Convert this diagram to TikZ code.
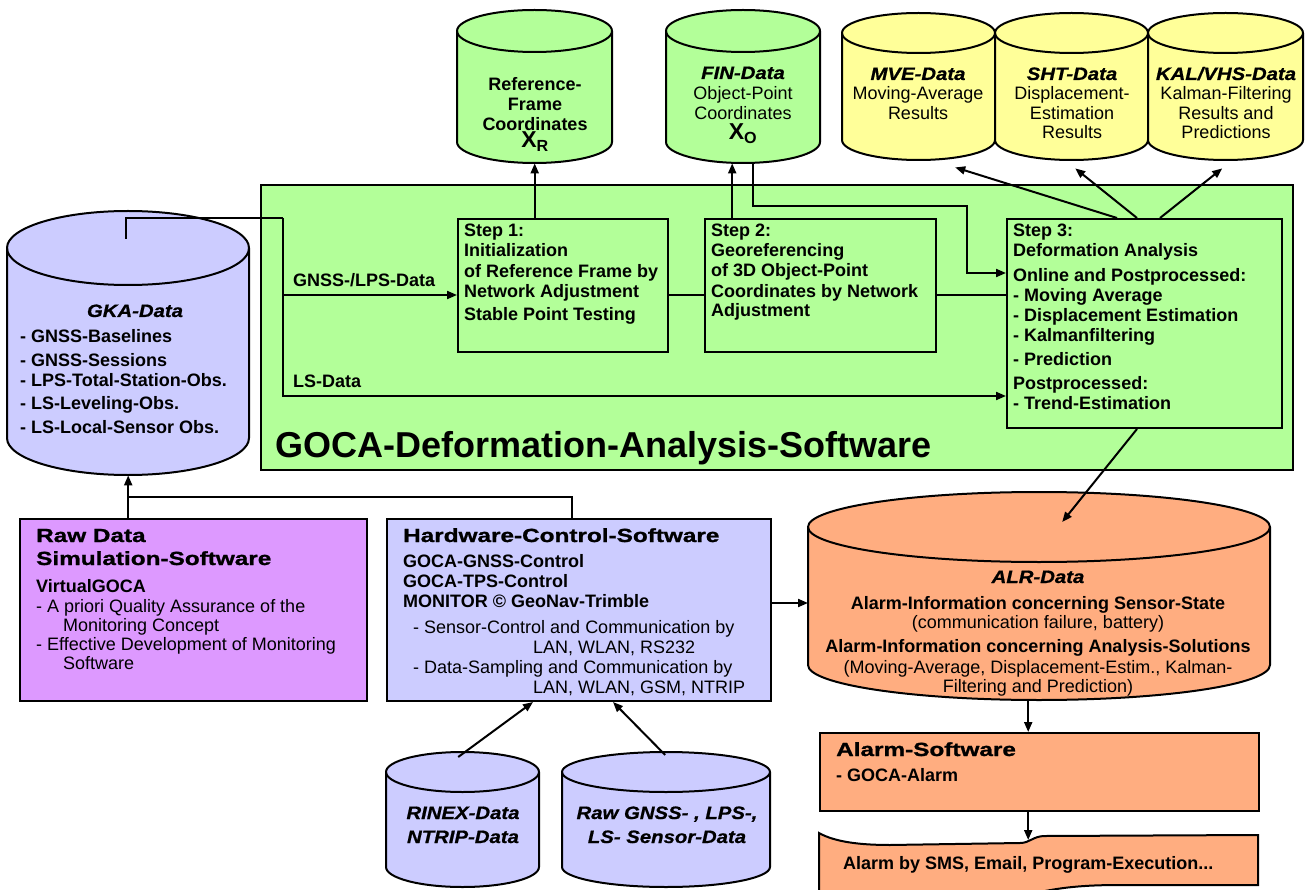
\documentclass[tikz,border=0pt]{standalone}
\usepackage{fontspec}
\setmainfont{Liberation Sans}
\newfontfamily\blackfont[FakeStretch=1.28,FakeBold=1.2]{Liberation Sans}
\newfontfamily\semiblack[FakeStretch=1.13,FakeBold=0.8]{Liberation Sans}
\usetikzlibrary{arrows.meta,calc}
\definecolor{cgreen}{RGB}{179,255,153}
\definecolor{cyellow}{RGB}{255,255,153}
\definecolor{clav}{RGB}{204,204,255}
\definecolor{cviolet}{RGB}{221,153,255}
\definecolor{corange}{RGB}{255,173,128}
% name, x1, x2, ytop-centre, ybottom-centre, ry, colour
\newcommand\mycyl[7]{%
  \path[draw=black, line width=2pt, fill=#7] (#2,#4) -- (#2,#5)
    arc[start angle=180, end angle=360, x radius={(#3-#2)*0.5pt}, y radius={#6*1pt}]
    -- (#3,#4)
    arc[start angle=0, end angle=180, x radius={(#3-#2)*0.5pt}, y radius={#6*1pt}] -- cycle;
  \draw[line width=2pt] (#2,#4)
    arc[start angle=180, end angle=360, x radius={(#3-#2)*0.5pt}, y radius={#6*1pt}];
  \node[inner sep=0pt, minimum width={(#3-#2)*1pt}, minimum height={(#5-#4+2*#6)*1pt}, anchor=north west] (#1) at (#2,#4-#6) {};
}
\tikzset{
  line/.style={line width=2pt},
  arr/.style={line width=2pt, -{Triangle[length=10pt,width=8pt]}},
  box/.style={draw, line width=2pt, inner sep=0pt, anchor=north west},
  txt/.style={inner sep=0pt, font=\fontsize{18}{20}\selectfont},
  lt/.style={txt, anchor=base west, align=left},
  ct/.style={txt, anchor=base, align=center},
  heading/.style={inner sep=0pt, anchor=base west, align=left, font=\blackfont\bfseries\fontsize{19}{23}\selectfont},
  dtitle/.style={inner sep=0pt, anchor=base, align=center, font=\semiblack\bfseries\itshape\fontsize{18}{24}\selectfont},
}
\begin{document}
\begin{tikzpicture}[x=1pt,y=-1pt]
\useasboundingbox (0,0) rectangle (1311,890);
\fill[white] (0,0) rectangle (1311,890);

% main green box
\node[box, fill=cgreen, minimum width=1032pt, minimum height=285pt] (goca) at (260,184) {};

% cylinders
\mycyl{gka}{7}{249}{248}{438}{37}{clav}
\mycyl{ref}{457}{612}{31}{142}{21}{cgreen}
\mycyl{fin}{666}{820}{31}{142}{21}{cgreen}
\mycyl{mve}{842}{995}{33}{140}{20}{cyellow}
\mycyl{sht}{995}{1148}{33}{140}{20}{cyellow}
\mycyl{kal}{1148}{1303}{33}{140}{20}{cyellow}
\mycyl{alr}{808}{1270}{527}{665}{35}{corange}
\mycyl{rinex}{386}{539}{772}{867}{20}{clav}
\mycyl{rawg}{562}{770}{772}{867}{20}{clav}

% boxes
\node[box, fill=cgreen, minimum width=210pt, minimum height=133pt] (step1) at (457,218) {};
\node[box, fill=cgreen, minimum width=231pt, minimum height=133pt] (step2) at (704,218) {};
\node[box, fill=cgreen, minimum width=275pt, minimum height=209pt] (step3) at (1006,218) {};
\node[box, fill=cviolet, minimum width=347pt, minimum height=182pt] (raw) at (19,518) {};
\node[box, fill=clav, minimum width=384pt, minimum height=182pt] (hw) at (386,518) {};
\node[box, fill=corange, minimum width=439pt, minimum height=78pt] (alarm) at (819,732) {};

% document shape
\path[draw, line width=2pt, fill=corange] (819,833) .. controls (835,842) and (860,845) .. (890,845)
  -- (1020,843) .. controls (1030,843) and (1033,836) .. (1045,836) -- (1258,835) -- (1258,885)
  -- (1120,885) .. controls (1080,885) and (1060,888) .. (1040,892) -- (819,900) -- cycle;
\node[inner sep=0pt, minimum width=439pt, minimum height=57pt, anchor=north west] (doc) at (819,833) {};

% connectors
\coordinate (gkatap) at ($(gka.north)+(-2,28)$);
\coordinate (bus) at ($(goca.north west)+(23,34)$);
\draw[line] (gkatap) |- (bus);
\draw[arr] (bus) |- ($(step3.south west)+(0,-33)$);
\draw[arr] ($(bus)+(0,77)$) -- ($(step1.north west)+(0,77)$);
\draw[arr] (step1.north -| ref.south) -- (ref.south);
\coordinate (finA) at ($(fin.south)+(-11,0)$);
\coordinate (finB) at ($(fin.south)+(10,0)$);
\coordinate (knee) at ($(step3.north west)+(-39,-12)$);
\draw[arr] (finA |- step2.north) -- (finA);
\draw[arr] (finB) |- (knee) |- ($(step3.north west)+(0,55)$);
\draw[line] ($(step1.north east)+(0,77)$) -- ($(step2.north west)+(0,77)$);
\draw[line] ($(step2.north east)+(0,77)$) -- ($(step3.north west)+(0,77)$);
\draw[arr] ($(step3.north west)+(111,0)$) -- ($(mve.south)+(36.5,7)$);
\draw[arr] ($(step3.north west)+(131,0)$) -- ($(sht.south)+(3.5,8)$);
\draw[arr] ($(step3.north west)+(154,0)$) -- ($(kal.south)+(-3.5,8)$);
\draw[arr] ($(step3.south west)+(131,0)$) -- ($(alr.north)+(23,30)$);
\draw[arr] (raw.north -| gka.south) -- (gka.south);
\draw[line] ($(hw.north west)+(186,0)$) |- ($(gka.south)+(0,22)$);
\coordinate (hwout) at ($(hw.north east)+(0,85)$);
\draw[arr] (hwout) -- (hwout -| alr.west);
\coordinate (alrout) at ($(alr.south)+(-11,0)$);
\draw[arr] (alrout) -- (alrout |- alarm.north);
\coordinate (doctip) at ($(alrout |- doc.north)+(0,7)$);
\draw[arr] (alrout |- alarm.south) -- (doctip);
\draw[arr] ($(rinex.north)+(-4.5,5)$) -- ($(hw.south west)+(147,0)$);
\draw[arr] ($(rawg.north)+(-1,3)$) -- ($(hw.south west)+(227,0)$);

% texts: top cylinders (multi-line nodes: base = last line)
\node[ct, font=\bfseries\fontsize{18}{20}\selectfont] (reft) at (535,148) {Reference-\\Frame\\Coordinates\\[-3pt]{\fontsize{23}{23}\selectfont X\textsubscript{R}}};
\node[dtitle] (fint) at (743,79) {FIN-Data};
\node[ct] (finl) at (743,140) {Object-Point\\Coordinates\\{\bfseries\fontsize{23}{23}\selectfont X\textsubscript{O}}};
\node[dtitle] (mvet) at (918,80) {MVE-Data};
\node[ct, font=\fontsize{18}{19.5}\selectfont] (mvel) at (918,119.5) {Moving-Average\\Results};
\node[dtitle] (shtt) at (1072,80) {SHT-Data};
\node[ct, font=\fontsize{18}{19.5}\selectfont] (shtl) at (1072,139) {Displacement-\\Estimation\\Results};
\node[dtitle] (kalt) at (1226,80) {KAL/VHS-Data};
\node[ct, font=\fontsize{18}{19.5}\selectfont] (kall) at (1226,139) {Kalman-Filtering\\Results and\\Predictions};

% GKA
\node[dtitle] (gkat) at (135,317) {GKA-Data};
\node[lt, font=\bfseries\fontsize{18}{20}\selectfont] (gkal) at (20,433) {- GNSS-Baselines\\[4pt]- GNSS-Sessions\\- LPS-Total-Station-Obs.\\[3pt]- LS-Leveling-Obs.\\[4pt]- LS-Local-Sensor Obs.};

% labels in green box
\node[lt, font=\bfseries\fontsize{18}{20}\selectfont] (gnsslab) at (293,287) {GNSS-/LPS-Data};
\node[lt, font=\bfseries\fontsize{18}{20}\selectfont] (lslab) at (293,387) {LS-Data};
\node[lt, font=\bfseries\fontsize{36}{40}\selectfont] (gocat) at (275,457) {GOCA-Deformation-Analysis-Software};

% steps
\node[lt, font=\bfseries\fontsize{18}{20}\selectfont] (s1t) at (464,320) {Step 1:\\Initialization\\of Reference Frame by\\Network Adjustment\\[3pt]Stable Point Testing};
\node[lt, font=\bfseries\fontsize{18}{20}\selectfont] (s2t) at (711,317) {Step 2:\\Georeferencing\\of 3D Object-Point\\Coordinates by Network\\Adjustment};
\node[lt, font=\bfseries\fontsize{18}{20}\selectfont] (s3t) at (1013,409) {Step 3:\\Deformation Analysis\\[5pt]Online and Postprocessed:\\- Moving Average\\- Displacement Estimation\\- Kalmanfiltering\\[4pt]- Prediction\\[4pt]Postprocessed:\\- Trend-Estimation};

% raw data box
\node[heading] (rawh) at (36,565) {Raw Data\\Simulation-Software};
\node[lt, font=\bfseries\fontsize{18}{20}\selectfont] (rawv) at (36,592) {VirtualGOCA};
\node[lt, font=\fontsize{18}{19}\selectfont] (rawl) at (36,669) {- A priori Quality Assurance of the\\\hspace*{27pt}Monitoring Concept\\- Effective Development of Monitoring\\\hspace*{27pt}Software};

% hardware box
\node[heading] (hwh) at (403,542) {Hardware-Control-Software};
\node[lt, font=\bfseries\fontsize{18}{20}\selectfont] (hwb) at (403,607) {GOCA-GNSS-Control\\GOCA-TPS-Control\\MONITOR © GeoNav-Trimble};
\node[lt] (hwl) at (413,693) {- Sensor-Control and Communication by\\\hspace*{120pt}LAN, WLAN, RS232\\- Data-Sampling and Communication by\\\hspace*{120pt}LAN, WLAN, GSM, NTRIP};

% ALR
\node[dtitle] (alrt) at (1038,583) {ALR-Data};
\node[ct] (alrl) at (1038,692) {{\bfseries Alarm-Information concerning Sensor-State}\\[-1pt](communication failure, battery)\\[4pt]{\bfseries Alarm-Information concerning Analysis-Solutions}\\[1pt](Moving-Average, Displacement-Estim., Kalman-\\[-1pt]Filtering and Prediction)};

% alarm software
\node[heading] (alh) at (836,756) {Alarm-Software};
\node[lt, font=\bfseries\fontsize{18}{20}\selectfont] (all) at (836,781) {- GOCA-Alarm};
\node[lt, font=\bfseries\fontsize{18}{20}\selectfont] (doct) at (843,869) {Alarm by SMS, Email, Program-Execution...};

% bottom cylinders
\node[dtitle] (rinext) at (463,843) {RINEX-Data\\NTRIP-Data};
\node[dtitle] (rawgt) at (667,843) {Raw GNSS- , LPS-,\\LS- Sensor-Data};
\end{tikzpicture}
\end{document}
